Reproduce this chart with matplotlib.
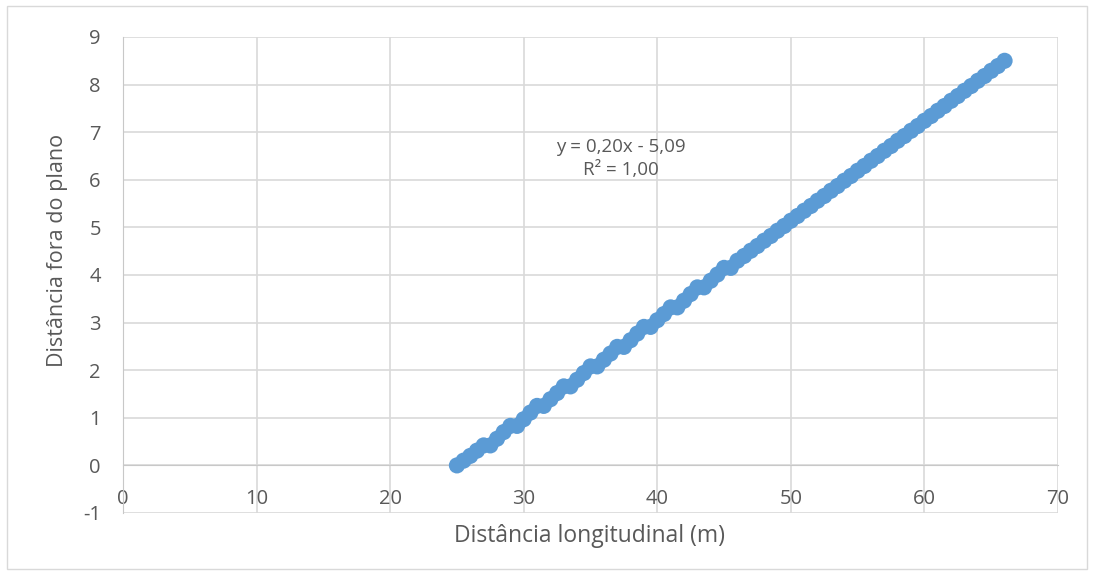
import matplotlib
matplotlib.use("Agg")
import matplotlib.pyplot as plt
from matplotlib.patches import Rectangle

x_vals = [25.0, 25.5, 26.0, 26.5, 27.0, 27.5, 28.0, 28.5, 29.0, 29.5,
          30.0, 30.5, 31.0, 31.5, 32.0, 32.5, 33.0, 33.5, 34.0, 34.5,
          35.0, 35.5, 36.0, 36.5, 37.0, 37.5, 38.0, 38.5, 39.0, 39.5,
          40.0, 40.5, 41.0, 41.5, 42.0, 42.5, 43.0, 43.5, 44.0, 44.5,
          45.0, 45.5, 46.0, 46.5, 47.0, 47.5, 48.0, 48.5, 49.0, 49.5,
          50.0, 50.5, 51.0, 51.5, 52.0, 52.5, 53.0, 53.5, 54.0, 54.5,
          55.0, 55.5, 56.0, 56.5, 57.0, 57.5, 58.0, 58.5, 59.0, 59.5,
          60.0, 60.5, 61.0, 61.5, 62.0, 62.5, 63.0, 63.5, 64.0, 64.5,
          65.0, 65.5, 66.0]
y_vals = [0.00, 0.10, 0.20, 0.31, 0.42, 0.42, 0.56, 0.70, 0.83, 0.83,
          0.97, 1.11, 1.25, 1.25, 1.39, 1.52, 1.66, 1.66, 1.80, 1.94,
          2.08, 2.08, 2.22, 2.35, 2.49, 2.49, 2.63, 2.77, 2.91, 2.91,
          3.05, 3.18, 3.32, 3.32, 3.46, 3.60, 3.74, 3.74, 3.88, 4.01,
          4.15, 4.15, 4.30, 4.40, 4.51, 4.61, 4.72, 4.82, 4.93, 5.03,
          5.14, 5.24, 5.35, 5.45, 5.56, 5.66, 5.77, 5.87, 5.98, 6.08,
          6.19, 6.29, 6.40, 6.50, 6.61, 6.71, 6.82, 6.92, 7.03, 7.13,
          7.24, 7.34, 7.45, 7.55, 7.66, 7.76, 7.87, 7.97, 8.08, 8.18,
          8.29, 8.39, 8.50]

x_ticks = [0, 10, 20, 30, 40, 50, 60, 70]
y_ticks = [-1, 0, 1, 2, 3, 4, 5, 6, 7, 8, 9]
x_title = "Distância longitudinal (m)"
y_title = "Distância fora do plano"
eq_text = "y = 0,20x - 5,09\nR² = 1,00"

plt.rcParams['font.family'] = ['Open Sans', 'DejaVu Sans']
TXT = '#595959'
GRID = '#d9d9d9'

W, H = 1094, 575
fig = plt.figure(figsize=(W / 100, H / 100), dpi=100)
fig.patches.append(Rectangle((7 / W, 6 / H), (1087 - 7) / W, (569 - 6) / H,
                             transform=fig.transFigure, fill=False,
                             edgecolor=GRID, linewidth=1.0))

L, R, T, B = 123, 1058, 37, 513
ax = fig.add_axes([L / W, 1 - B / H, (R - L) / W, (B - T) / H])
ax.set_xlim(0, 70)
ax.set_ylim(-1, 9)
ax.set_xticks(x_ticks)
ax.set_yticks(y_ticks)
ax.set_xticklabels([str(v) for v in x_ticks])
ax.set_yticklabels([str(v) for v in y_ticks])
ax.grid(True, color=GRID, linewidth=1.2, zorder=0)
ax.set_axisbelow(True)
for s in ['top', 'right']:
    ax.spines[s].set_visible(False)
ax.spines['left'].set_color('#c8c8c8')
ax.spines['bottom'].set_position(('data', 0))
ax.spines['bottom'].set_color('#c8c8c8')
ax.tick_params(axis='both', length=0, labelsize=14.5, labelcolor=TXT)
ax.tick_params(axis='x', pad=17)
ax.tick_params(axis='y', pad=16)

ax.scatter(x_vals, y_vals, s=135, color='#5B9BD5', edgecolors='none', zorder=3)

ax.text(37.3, 6.45, eq_text, ha='center', va='center', fontsize=13.5,
        color=TXT, linespacing=1.35)

fig.text(590 / W, 1 - 536 / H, x_title, ha='center', va='center',
         fontsize=16.5, color=TXT)
fig.text(58 / W, 1 - 250 / H, y_title, ha='center', va='center',
         rotation=90, fontsize=15.5, color=TXT)

fig.savefig('out.png', dpi=100)
